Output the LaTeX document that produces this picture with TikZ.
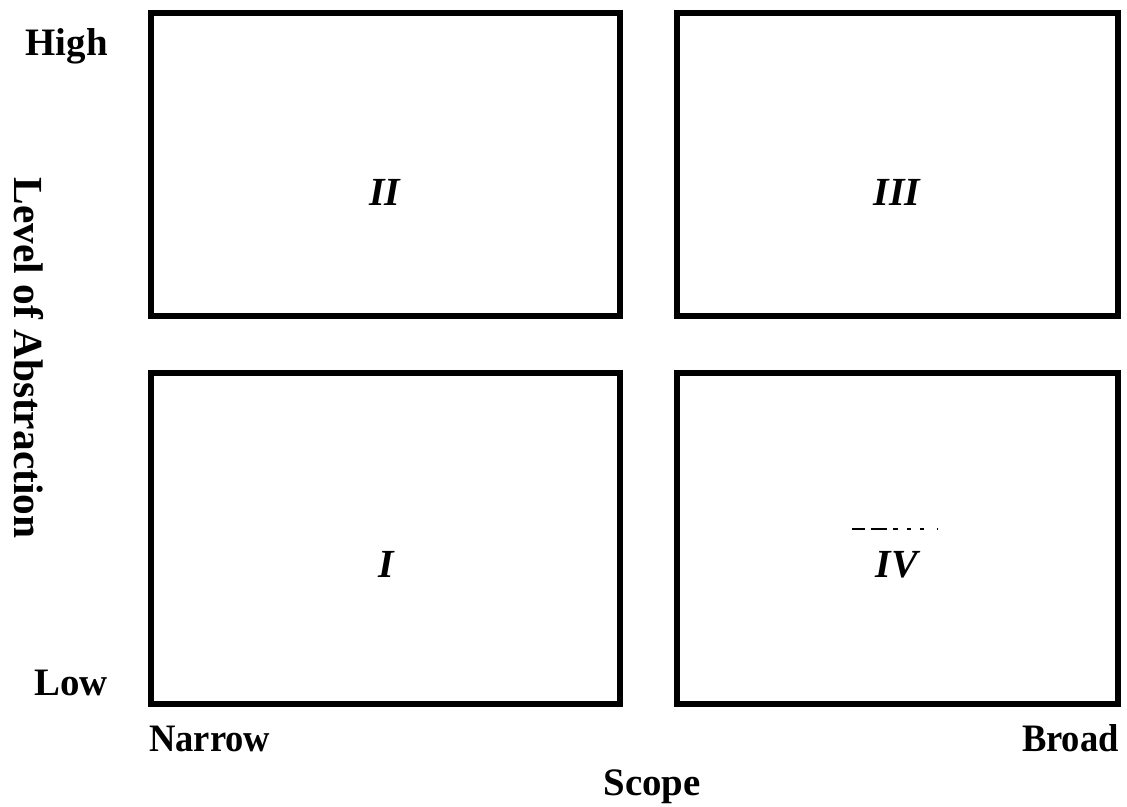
\documentclass[tikz,border=0pt]{standalone}
\usepackage{fontspec}
\setmainfont{Liberation Serif}
\begin{document}
\begin{tikzpicture}[x=1bp,y=-1bp,
  quad/.style={draw=black,line width=6bp,inner sep=0pt},
  lbl/.style={font=\fontsize{39}{44}\selectfont\bfseries,inner sep=0pt},
  num/.style={font=\fontsize{40}{44}\selectfont\bfseries\itshape,inner sep=0pt,anchor=base}]
\useasboundingbox (0,0) rectangle (1127,807);
\draw[quad] (150.5,13) rectangle (620,316);
\draw[quad] (677,13) rectangle (1117.5,316);
\draw[quad] (150.5,373) rectangle (620,703.5);
\draw[quad] (677,373) rectangle (1117.5,703.5);
\node[num] (n2) at (385,205) {II};
\node[num] (n3) at (897,205) {III};
\node[num] (n1) at (386,577) {I};
\node[num] (n4) at (897,577) {IV};
\node[lbl,anchor=base east] (high) at (108,56) {High};
\node[lbl,anchor=base east] (low) at (108,695) {Low};
\node[lbl,anchor=base west,xscale=0.94] (narrow) at (149,751) {Narrow};
\node[lbl,anchor=base east,xscale=0.94] (broad) at (1119,751) {Broad};
\node[lbl,anchor=base] (scope) at (652,795) {Scope};
\node[font=\fontsize{41.5}{46}\selectfont\bfseries,inner sep=0pt,rotate=-90] (level) at (29,358) {Level of Abstraction};
\coordinate (da) at (852,529);
\coordinate (db) at (938,529);
\draw[line width=1.2bp,dash pattern=on 13bp off 6bp on 16bp off 6bp on 5bp off 9bp on 4bp off 9bp on 4bp] (da) -- (db);
\end{tikzpicture}
\end{document}
